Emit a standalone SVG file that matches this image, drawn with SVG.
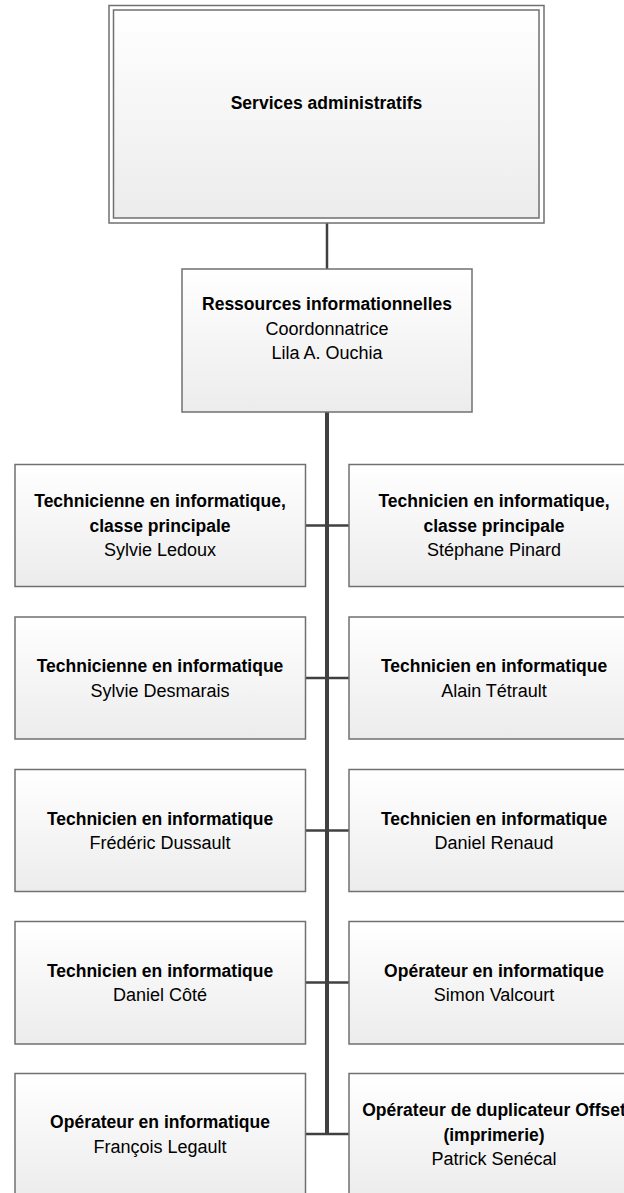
<svg xmlns="http://www.w3.org/2000/svg" width="624" height="1193" viewBox="0 0 624 1193">
<defs>
<linearGradient id="g" x1="0" y1="0" x2="0" y2="1">
<stop offset="0" stop-color="#ffffff"/>
<stop offset="1" stop-color="#ececec"/>
</linearGradient>
<style>
.box{fill:url(#g);stroke:#707070;stroke-width:1.5}
.outer{fill:#ffffff;stroke:#707070;stroke-width:1.5}
.c{stroke:#404040;fill:none}
text{font-family:"Liberation Sans",Arial,sans-serif;text-anchor:middle;fill:#000}
.b{font-weight:bold;font-size:17.5px}
.r{font-size:18px}
</style>
</defs>
<rect width="624" height="1193" fill="#ffffff"/>
<g id="connectors">
<line class="c" x1="327" y1="223" x2="327" y2="269" stroke-width="2.5"/>
<line class="c" x1="327" y1="412" x2="327" y2="1134" stroke-width="4"/>
<line class="c" x1="305.5" y1="525.5" x2="349" y2="525.5" stroke-width="2.5"/>
<line class="c" x1="305.5" y1="678" x2="349" y2="678" stroke-width="2.5"/>
<line class="c" x1="305.5" y1="830.5" x2="349" y2="830.5" stroke-width="2.5"/>
<line class="c" x1="305.5" y1="982.5" x2="349" y2="982.5" stroke-width="2.5"/>
<line class="c" x1="305.5" y1="1134" x2="349" y2="1134" stroke-width="2.5"/>
</g>
<g id="services-administratifs">
<rect class="outer" x="109" y="5.5" width="435" height="217.5"/>
<rect class="box" x="113.5" y="10" width="425.5" height="208"/>
<text class="b" x="326.5" y="109">Services administratifs</text>
</g>
<g id="ressources-informationnelles">
<rect class="box" x="182" y="269" width="290" height="143"/>
<text class="b" x="327" y="310">Ressources informationnelles</text>
<text class="r" x="327" y="334.5">Coordonnatrice</text>
<text class="r" x="327" y="359">Lila A. Ouchia</text>
</g>
<g id="sylvie-ledoux">
<rect class="box" x="15" y="464.5" width="290.5" height="122"/>
<text class="b" x="160" y="507">Technicienne en informatique,</text>
<text class="b" x="160" y="531.5">classe principale</text>
<text class="r" x="160" y="556">Sylvie Ledoux</text>
</g>
<g id="stephane-pinard">
<rect class="box" x="349" y="464.5" width="291" height="122"/>
<text class="b" x="494" y="507">Technicien en informatique,</text>
<text class="b" x="494" y="531.5">classe principale</text>
<text class="r" x="494" y="556">Stéphane Pinard</text>
</g>
<g id="sylvie-desmarais">
<rect class="box" x="15" y="617" width="290.5" height="122"/>
<text class="b" x="160" y="672">Technicienne en informatique</text>
<text class="r" x="160" y="696.5">Sylvie Desmarais</text>
</g>
<g id="alain-tetrault">
<rect class="box" x="349" y="617" width="291" height="122"/>
<text class="b" x="494" y="672">Technicien en informatique</text>
<text class="r" x="494" y="696.5">Alain Tétrault</text>
</g>
<g id="frederic-dussault">
<rect class="box" x="15" y="769.5" width="290.5" height="122"/>
<text class="b" x="160" y="824.5">Technicien en informatique</text>
<text class="r" x="160" y="849">Frédéric Dussault</text>
</g>
<g id="daniel-renaud">
<rect class="box" x="349" y="769.5" width="291" height="122"/>
<text class="b" x="494" y="824.5">Technicien en informatique</text>
<text class="r" x="494" y="849">Daniel Renaud</text>
</g>
<g id="daniel-cote">
<rect class="box" x="15" y="921.5" width="290.5" height="122.5"/>
<text class="b" x="160" y="976.5">Technicien en informatique</text>
<text class="r" x="160" y="1001">Daniel Côté</text>
</g>
<g id="simon-valcourt">
<rect class="box" x="349" y="921.5" width="291" height="122.5"/>
<text class="b" x="494" y="976.5">Opérateur en informatique</text>
<text class="r" x="494" y="1001">Simon Valcourt</text>
</g>
<g id="francois-legault">
<rect class="box" x="15" y="1073.5" width="290.5" height="122.5"/>
<text class="b" x="160" y="1128">Opérateur en informatique</text>
<text class="r" x="160" y="1152.5">François Legault</text>
</g>
<g id="patrick-senecal">
<rect class="box" x="349" y="1073.5" width="291" height="122.5"/>
<text class="b" x="494" y="1116">Opérateur de duplicateur Offset</text>
<text class="b" x="494" y="1140.5">(imprimerie)</text>
<text class="r" x="494" y="1165">Patrick Senécal</text>
</g>
</svg>
